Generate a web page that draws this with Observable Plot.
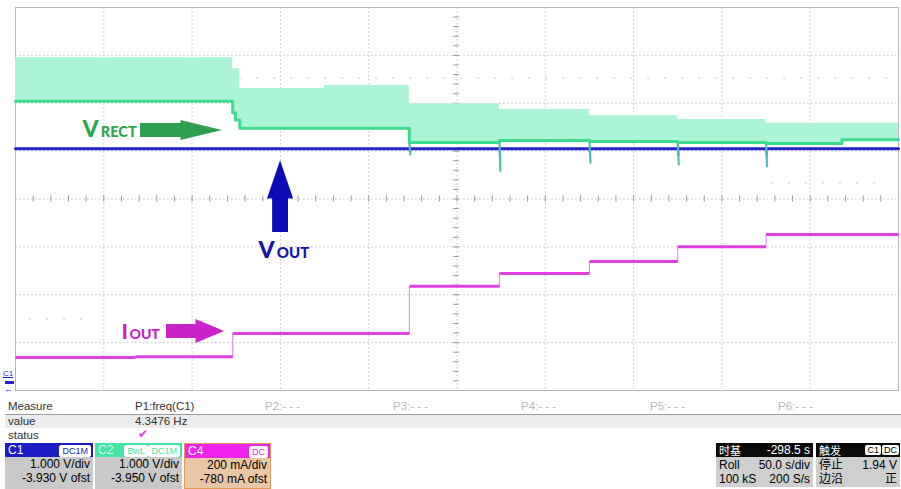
<!DOCTYPE html>
<html><head><meta charset="utf-8">
<script src="https://cdn.jsdelivr.net/npm/d3@7"></script>
<script src="https://cdn.jsdelivr.net/npm/@observablehq/plot@0.6"></script>
<style>
body{margin:0;background:#fff;font-family:"Liberation Sans",Arial,sans-serif;}
#wrap{position:relative;width:901px;height:489px;overflow:hidden;background:#fff;}
#chart{position:absolute;left:0;top:0;}
.t{position:absolute;font-size:11px;line-height:13px;color:#333;white-space:nowrap;}
.box{position:absolute;font-size:12px;}
.hdr{position:absolute;left:0;right:0;top:0;height:14px;line-height:14px;}
.bdg{position:absolute;top:2px;height:10px;line-height:10px;font-size:9px;padding:0 2px;background:#fff;border-radius:2px;}
.r{position:absolute;right:3px;white-space:nowrap;line-height:13px;}
.l{position:absolute;left:3px;white-space:nowrap;line-height:13px;}
</style></head>
<body><div id="wrap"><div id="chart"></div></div>
<script>
// ---- scope settings ----
const chNames = ["C1", "C2", "C4"];
const chPerDiv = [1.0, 1.0, 200];       // V/div, V/div, mA/div
const chOfst = [-3.930, -3.950, -780];  // offsets
const sPerDiv = 50;                      // s/div, 10 divisions
const toDiv = (v, ch) => (v + chOfst[ch]) / chPerDiv[ch];

// ---- C2 : VRECT (V) ----
const vrectT    = [0,    123,  124.5, 127,  175,  223,  274,  325,  375,  425,  468,  500];
const vrectTop  = [6.90, 6.67, 6.67,  6.26, 6.32, 5.94, 5.82, 5.69, 5.61, 5.53, 5.53, 5.53];
const vrectBase = [5.99, 5.75, 5.60,  5.43, 5.43, 5.13, 5.17, 5.15, 5.13, 5.11, 5.19, 5.19];
const dipT      = [223,  274,  325,  375,  425];
const dipV      = [4.86, 4.52, 4.69, 4.65, 4.61];
// ---- C1 : VOUT (V) ----
const voutT = [0, 500];
const voutV = [4.98, 4.98];
const voutDipV = [4.90, 4.80, 4.84, 4.83, 4.82];
// ---- C4 : IOUT (mA) ----
const ioutT = [0,   68,  123, 223, 274, 325, 375, 425, 500];
const ioutV = [118, 121, 218, 415, 469, 519, 581, 632, 632];

// grid
const xGrid = d3.range(0, 501, sPerDiv);
const yGrid = d3.range(-4, 4.01, 1);
const xMinor = d3.range(0, 500.1, 10);
const yMinor = d3.range(-4, 4.01, 0.2);
// faint ghost traces [t1, t2, div]
const ghost = [[127, 500, 2.52], [8, 43, -2.50], [428, 492, 0.34]];

const vrectRows = vrectT.map((t, i) => ({t, base: toDiv(vrectBase[i], 1), top: toDiv(vrectTop[i], 1)}));
const baseAt = t => { let b = vrectRows[0].base; for (const r of vrectRows) if (r.t <= t) b = r.base; return b; };
const dipRows = dipT.map((t, i) => ({t, b: baseAt(t), d: toDiv(dipV[i], 1), vb: toDiv(voutV[0], 0), vd: toDiv(voutDipV[i], 0)}));
const voutRows = voutT.map((t, i) => ({t, v: toDiv(voutV[i], 0)}));
const ioutRows = ioutT.map((t, i) => ({t, v: toDiv(ioutV[i], 2)}));
const ioutSegs = ioutT.slice(0, -1).map((t, i) => ({t1: t, t2: ioutT[i + 1], v: toDiv(ioutV[i], 2)}));

// annotations (time s, divisions)
const labels = [
  {t: 37.9, y: 1.285, s: "V", f: 23, c: "#2ea64c"},
  {t: 48.3, y: 1.285, s: "RECT", f: 14.5, c: "#2ea64c"},
  {t: 137.6, y: -1.222, s: "V", f: 23, c: "#1414aa"},
  {t: 148.0, y: -1.222, s: "OUT", f: 15, c: "#1414aa"},
  {t: 60.0, y: -2.914, s: "I", f: 21, c: "#c822c8"},
  {t: 64.6, y: -2.914, s: "OUT", f: 14, c: "#c822c8"}
];
const hArrows = [
  {c: "#2f9e4f", y: 1.43, s0: 70.8, s1: 94.5, sh: 0.146, h1: 117.2, hh: 0.21},
  {c: "#c822c8", y: -2.768, s0: 85.5, s1: 103.0, sh: 0.146, h1: 118.4, hh: 0.25}
];
const vArrow = {c: "#0c0cb4", t: 150.1, s0: -0.70, s1: 0.05, sw: 4.5, h1: 0.80, hw: 7.4};

const marks = [
  Plot.ruleX(xGrid, {stroke: "#c4c4c4", strokeDasharray: "1.5,2.5"}),
  Plot.ruleY(yGrid, {stroke: "#c4c4c4", strokeDasharray: "1.5,2.5"}),
  Plot.ruleY(yMinor, {y: d => d, x1: 248, x2: 251.4, stroke: "#9a9a9a"}),
  Plot.ruleX(xMinor, {x: d => d, y1: -0.065, y2: 0.065, stroke: "#9a9a9a"}),
  ...ghost.map(g => Plot.ruleY([g[2]], {x1: g[0], x2: g[1], stroke: "#d4d4d4", strokeDasharray: "2,15", strokeWidth: 1.5})),
  Plot.frame({stroke: "#b8b8b8"}),
  // VRECT band
  Plot.areaY(vrectRows, {x: "t", y1: "base", y2: "top", curve: "step-after", fill: "#acf4d6"}),
  // VOUT
  Plot.line(voutRows, {x: "t", y: "v", stroke: "#2222cc", strokeWidth: 3}),
  Plot.link(dipRows, {x1: "t", y1: "vb", x2: d => d.t + 0.5, y2: "vd", stroke: "#3a3ad0", strokeWidth: 2}),
  // VRECT base
  Plot.line(vrectRows, {x: "t", y: "base", curve: "step-after", stroke: "#3ddc8c", strokeWidth: 3}),
  Plot.link(dipRows, {x1: "t", y1: "b", x2: d => d.t + 0.6, y2: "d", stroke: "#52bcb4", strokeWidth: 2.2}),
  // IOUT
  Plot.line(ioutRows, {x: "t", y: "v", curve: "step-after", stroke: "#ea7aea", strokeWidth: 1}),
  Plot.link(ioutSegs, {x1: "t1", x2: "t2", y1: "v", y2: "v", stroke: "#e040e0", strokeWidth: 3}),
  // annotations
  Plot.text(labels, {x: "t", y: "y", text: "s", fill: "c", fontSize: "f", fontWeight: 900, fontFamily: "Lato", textAnchor: "start", lineAnchor: "bottom"}),
  ...hArrows.flatMap(a => [
    Plot.areaY([{x: a.s0}, {x: a.s1}], {x: "x", y1: a.y - a.sh, y2: a.y + a.sh, fill: a.c}),
    Plot.areaY([{x: a.s1 - 0.8, h: a.hh}, {x: a.h1, h: 0}], {x: "x", y1: d => a.y - d.h, y2: d => a.y + d.h, fill: a.c})
  ]),
  Plot.areaX([{y: vArrow.s0}, {y: vArrow.s1}], {y: "y", x1: vArrow.t - vArrow.sw, x2: vArrow.t + vArrow.sw, fill: vArrow.c}),
  Plot.areaX([{y: 0.0, w: vArrow.hw}, {y: vArrow.h1, w: 0}], {y: "y", x1: d => vArrow.t - d.w, x2: d => vArrow.t + d.w, fill: vArrow.c})
];

const chart = Plot.plot({
  width: 901, height: 395,
  marginLeft: 15, marginRight: 3, marginTop: 7, marginBottom: 5,
  x: {domain: [0, 500], axis: null},
  y: {domain: [-4, 4], axis: null},
  style: {background: "transparent", overflow: "visible"},
  marks
});
document.getElementById("chart").appendChild(chart);

// ---- bottom panel ----
const wrap = document.getElementById("wrap");
function el(cls, css, html, parent = wrap) {
  const d = document.createElement("div");
  if (cls) d.className = cls;
  Object.assign(d.style, css);
  d.innerHTML = html;
  parent.appendChild(d);
  return d;
}
// ground markers
el("t", {left: "3px", top: "369px", fontSize: "8px", color: "#2a2ae0", lineHeight: "9px", textDecoration: "underline"}, "C1");
el("", {position: "absolute", left: "5px", top: "381px", width: "9px", height: "3px", background: "#2323c8"}, "");
el("t", {left: "4px", top: "385px", fontSize: "9px", color: "#2323c8", lineHeight: "9px"}, "&#8592;");

const measNames = ["P1:freq(C1)", "P2:- - -", "P3:- - -", "P4:- - -", "P5:- - -", "P6:- - -"];
const measX = [135, 265, 393, 521, 650, 778];
const measVal = ["4.3476 Hz"];
el("", {position: "absolute", left: "5px", top: "415px", width: "896px", height: "13px", background: "#ececec"}, "");
el("", {position: "absolute", left: "5px", top: "414px", width: "896px", height: "1px", background: "#9c9c9c"}, "");
el("t", {left: "8px", top: "400px", fontSize: "11.5px"}, "Measure");
el("t", {left: "8px", top: "415px", fontSize: "11.5px"}, "value");
el("t", {left: "8px", top: "429px", fontSize: "11.5px"}, "status");
measNames.forEach((m, i) => el("t", {left: measX[i] + "px", top: "400px", fontSize: "11.5px", color: i ? "#b8b8b8" : "#333"}, m));
el("t", {left: measX[0] + "px", top: "415px", fontSize: "11.5px"}, measVal[0]);
el("t", {left: (measX[0] + 3) + "px", top: "428px", color: "#e040e0", fontSize: "12px"}, "&#10004;");

// channel boxes
const boxX = [5, 95, 184];
const boxW = [88, 87, 87];
const hdrBg = ["#1c1cc4", "#44e4a6", "#f022ee"];
const hdrFg = ["#ffffff", "#d8fff0", "#ffffff"];
const bodyBg = ["#c9c9c9", "#c9c9c9", "#eac6a4"];
const badges = [["DC1M"], ["BwL", "DC1M"], ["DC"]];
const line1 = ["1.000 V/div", "1.000 V/div", "200 mA/div"];
const line2 = ["-3.930 V ofst", "-3.950 V ofst", "-780 mA ofst"];
chNames.forEach((n, i) => {
  const b = el("box", {left: boxX[i] + "px", top: "443px", width: boxW[i] + "px", height: "46px", background: bodyBg[i],
    boxSizing: "border-box", border: i === 2 ? "1px solid #e09a5a" : "none"}, "");
  const h = el("hdr", {background: hdrBg[i], color: hdrFg[i]}, "", b);
  el("l", {top: "0px", lineHeight: "14px"}, n, h);
  let rx = 2;
  badges[i].slice().reverse().forEach(t => {
    el("bdg", {right: rx + "px", color: hdrBg[i], border: "1px solid #fff"}, t, h);
    rx += t.length * 6 + 8;
  });
  el("r", {top: "15px"}, line1[i], b);
  el("r", {top: "29px"}, line2[i], b);
});

// timebase & trigger
const tbHead = ["时基", "-298.5 s"];
const tbRows = [["Roll", "50.0 s/div"], ["100 kS", "200 S/s"]];
const trHead = ["触发"];
const trRows = [["停止", "1.94 V"], ["边沿", "正"]];
function infoBox(x, w, head, headR, rows) {
  const b = el("box", {left: x + "px", top: "443px", width: w + "px", height: "44px", background: "#cfcfcf",
    fontFamily: "'Liberation Sans','Noto Sans CJK SC',sans-serif"}, "");
  const h = el("hdr", {background: "#0a0a0a", color: "#fff", height: "14px", lineHeight: "14px"}, "", b);
  el("l", {top: "0px", fontFamily: "'Noto Sans CJK SC'", fontSize: "11px", lineHeight: "14px"}, head, h);
  if (headR) el("r", {top: "0px", lineHeight: "14px"}, headR, h);
  rows.forEach((r, k) => {
    el("l", {top: (16 + k * 14) + "px"}, r[0], b);
    el("r", {top: (16 + k * 14) + "px"}, r[1], b);
  });
  return h;
}
infoBox(716, 97, tbHead[0], tbHead[1], tbRows);
const th = infoBox(816, 84, trHead[0], null, trRows);
el("bdg", {right: "19px", top: "2px", color: "#000", fontSize: "9px", height: "10px"}, "C1", th);
el("bdg", {right: "1px", top: "2px", color: "#000", fontSize: "9px", height: "10px"}, "DC", th);
</script>
</body></html>
